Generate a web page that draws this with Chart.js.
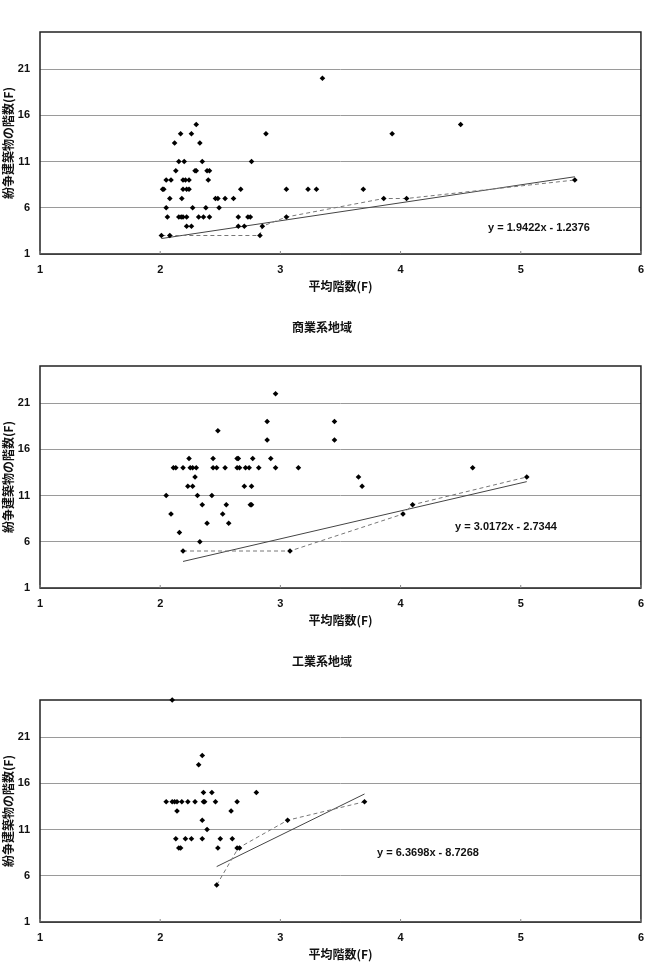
<!DOCTYPE html>
<html lang="ja">
<head>
<meta charset="utf-8">
<script src="https://cdn.jsdelivr.net/npm/chart.js@4.4.1/dist/chart.umd.min.js"></script>
<style>
  body { margin: 0; background: #fff; width: 653px; height: 963px; overflow: hidden; position: relative; }
  .wrap { position: absolute; left: 0; width: 653px; height: 334px; }
</style>
</head>
<body>
<div class="wrap" style="top:-14px"><canvas id="c1" width="653" height="334"></canvas></div>
<div class="wrap" style="top:320px"><canvas id="c2" width="653" height="334"></canvas></div>
<div class="wrap" style="top:654px"><canvas id="c3" width="653" height="334"></canvas></div>
<script>
// 軸・ラベル
const xTicks = [1, 2, 3, 4, 5, 6];
const yTicks = [1, 6, 11, 16, 21];
const xTitle = '平均階数(F)';
const yTitle = '紛争建築物の階数(F)';

// 住居系地域
const jukyoX = [2.30, 2.17, 2.26, 2.88, 2.12, 2.33, 2.155, 2.20, 2.35, 2.76,
  2.13, 2.29, 2.30, 2.39, 2.41, 2.05, 2.09, 2.19, 2.21, 2.24, 2.40,
  2.02, 2.03, 2.19, 2.22, 2.24, 2.67, 3.05, 3.23, 3.30, 3.69,
  2.08, 2.18, 2.46, 2.48, 2.54, 2.61, 3.86, 4.05,
  2.05, 2.27, 2.38, 2.49,
  2.06, 2.155, 2.175, 2.19, 2.22, 2.32, 2.36, 2.41, 2.65, 2.73, 2.75, 3.05,
  2.22, 2.26, 2.65, 2.70, 2.85, 2.01, 2.08, 2.83,
  3.35, 4.50, 3.93, 5.45];
const jukyoY = [15, 14, 14, 14, 13, 13, 11, 11, 11, 11,
  10, 10, 10, 10, 10, 9, 9, 9, 9, 9, 9,
  8, 8, 8, 8, 8, 8, 8, 8, 8, 8,
  7, 7, 7, 7, 7, 7, 7, 7,
  6, 6, 6, 6,
  5, 5, 5, 5, 5, 5, 5, 5, 5, 5, 5, 5,
  4, 4, 4, 4, 4, 3, 3, 3,
  20, 15, 14, 9];
const jukyoMinX = [2.01, 2.83, 2.85, 3.05, 3.86, 4.05, 5.45];
const jukyoMinY = [3, 3, 4, 5, 7, 7, 9];
const jukyoTrendX = [2.01, 5.45];
const jukyoTrendY = [2.67, 9.35];

// 商業系地域
const shogyoX = [2.96, 2.89, 3.45, 2.48, 2.89, 3.45,
  2.24, 2.44, 2.64, 2.65, 2.77, 2.92,
  2.11, 2.13, 2.19, 2.25, 2.27, 2.30, 2.44, 2.47, 2.54, 2.64, 2.66, 2.71, 2.74, 2.82, 2.96, 3.15, 4.60,
  2.29, 3.65, 5.05,
  2.23, 2.27, 2.70, 2.76, 3.68,
  2.05, 2.31, 2.43,
  2.35, 2.55, 2.75, 2.76, 4.10,
  2.09, 2.52, 4.02,
  2.39, 2.57, 2.16, 2.33, 2.19, 3.08];
const shogyoY = [22, 19, 19, 18, 17, 17,
  15, 15, 15, 15, 15, 15,
  14, 14, 14, 14, 14, 14, 14, 14, 14, 14, 14, 14, 14, 14, 14, 14, 14,
  13, 13, 13,
  12, 12, 12, 12, 12,
  11, 11, 11,
  10, 10, 10, 10, 10,
  9, 9, 9,
  8, 8, 7, 6, 5, 5];
const shogyoMinX = [2.19, 3.08, 4.02, 4.10, 5.05];
const shogyoMinY = [5, 5, 9, 10, 13];
const shogyoTrendX = [2.19, 5.05];
const shogyoTrendY = [3.87, 12.50];

// 工業系地域
const kogyoX = [2.10, 2.35, 2.32,
  2.36, 2.43, 2.80,
  2.05, 2.10, 2.12, 2.14, 2.18, 2.23, 2.29, 2.36, 2.37, 2.46, 2.64, 3.70,
  2.14, 2.59, 2.35, 3.06, 2.39,
  2.13, 2.21, 2.26, 2.35, 2.50, 2.60,
  2.155, 2.17, 2.48, 2.64, 2.66, 2.47];
const kogyoY = [25, 19, 18,
  15, 15, 15,
  14, 14, 14, 14, 14, 14, 14, 14, 14, 14, 14, 14,
  13, 13, 12, 12, 11,
  10, 10, 10, 10, 10, 10,
  9, 9, 9, 9, 9, 5];
const kogyoMinX = [2.47, 2.65, 3.06, 3.70];
const kogyoMinY = [5, 9, 12, 14];
const kogyoTrendX = [2.47, 3.70];
const kogyoTrendY = [6.99, 14.84];

const toPoints = (xs, ys) => xs.map((x, i) => ({ x: x, y: ys[i] }));

// 枠線と回帰式
const framePlugin = {
    id: 'frame',
    beforeDatasetsDraw(chart) {
        const { ctx, chartArea: a, scales: { x } } = chart;
        ctx.save();
        ctx.strokeStyle = '#222';
        ctx.lineWidth = 1.5;
        ctx.strokeRect(a.left, a.top, a.right - a.left, a.bottom - a.top);
        ctx.lineWidth = 1;
        ctx.strokeStyle = '#888';
        x.ticks.forEach(t => {
            const px = x.getPixelForValue(t.value);
            ctx.beginPath();
            ctx.moveTo(px, a.bottom);
            ctx.lineTo(px, a.bottom - 3);
            ctx.stroke();
        });
        ctx.restore();
    },
    afterDraw(chart, args, opts) {
        const { ctx } = chart;
        ctx.save();
        ctx.font = 'bold 11px "Liberation Sans", Arial, sans-serif';
        ctx.fillStyle = '#111';
        ctx.textAlign = 'center';
        ctx.textBaseline = 'middle';
        ctx.fillText(opts.text, opts.x, opts.y);
        ctx.restore();
    }
};

const tickFont = { family: '"Liberation Sans", Arial, sans-serif', size: 11, weight: 'bold' };
const jpFont = { family: '"Noto Sans CJK JP", sans-serif', size: 12, weight: 'bold' };

function makeChart(id, title, pts, minPts, trendPts, eq) {
    const ctx = document.getElementById(id).getContext('2d');
    return new Chart(ctx, {
        type: 'scatter',
        data: {
            datasets: [{
                data: pts,
                pointStyle: 'rectRot',
                pointRadius: 2.8,
                backgroundColor: '#000',
                borderColor: '#000',
                borderWidth: 0,
                clip: false
            }, {
                data: minPts,
                showLine: true,
                borderColor: '#777',
                borderWidth: 1,
                borderDash: [4, 3],
                pointRadius: 0
            }, {
                data: trendPts,
                showLine: true,
                borderColor: '#444',
                borderWidth: 1,
                pointRadius: 0
            }]
        },
        options: {
            responsive: false,
            animation: false,
            layout: { padding: { left: 0, right: 9, top: 0, bottom: 0 } },
            scales: {
                x: {
                    type: 'linear',
                    min: 1,
                    max: 6,
                    afterBuildTicks: s => { s.ticks = xTicks.map(v => ({ value: v })); },
                    afterFit: s => { s.height = 66; },
                    grid: { drawOnChartArea: false, drawTicks: false },
                    border: { display: false },
                    ticks: { font: tickFont, color: '#111', padding: 9, maxRotation: 0 },
                    title: { display: true, text: xTitle, font: jpFont, color: '#111', padding: { top: 0, bottom: 26 } }
                },
                y: {
                    type: 'linear',
                    min: 1,
                    max: 25,
                    afterBuildTicks: s => { s.ticks = yTicks.map(v => ({ value: v })); },
                    afterFit: s => { s.width = 40; },
                    grid: { color: '#9a9a9a', lineWidth: 1, drawTicks: false },
                    border: { display: false },
                    ticks: { font: tickFont, color: '#111', padding: 10 },
                    title: { display: true, text: yTitle, font: jpFont, color: '#111', padding: { top: 1, bottom: 0 } }
                }
            },
            plugins: {
                legend: { display: false },
                tooltip: { enabled: false },
                title: {
                    display: true,
                    text: title,
                    font: jpFont,
                    color: '#111',
                    padding: { top: 0, bottom: 31.6 }
                },
                frame: eq
            }
        },
        plugins: [framePlugin]
    });
}

makeChart('c1', '住居系地域', toPoints(jukyoX, jukyoY), toPoints(jukyoMinX, jukyoMinY),
    toPoints(jukyoTrendX, jukyoTrendY), { text: 'y = 1.9422x - 1.2376', x: 539, y: 242 });
makeChart('c2', '商業系地域', toPoints(shogyoX, shogyoY), toPoints(shogyoMinX, shogyoMinY),
    toPoints(shogyoTrendX, shogyoTrendY), { text: 'y = 3.0172x - 2.7344', x: 506, y: 207 });
makeChart('c3', '工業系地域', toPoints(kogyoX, kogyoY), toPoints(kogyoMinX, kogyoMinY),
    toPoints(kogyoTrendX, kogyoTrendY), { text: 'y = 6.3698x - 8.7268', x: 428, y: 199 });
</script>
</body>
</html>
